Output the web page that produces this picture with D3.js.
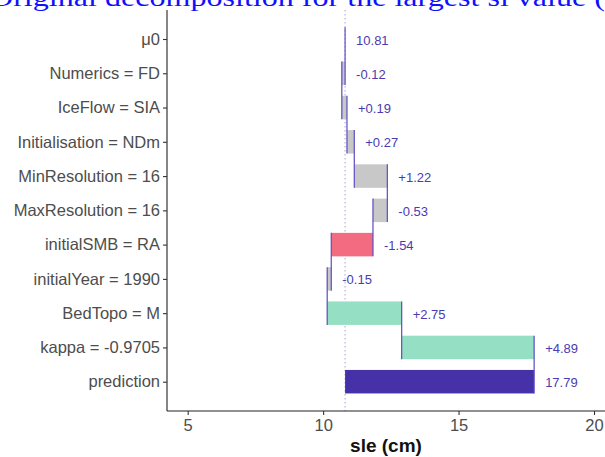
<!DOCTYPE html>
<html>
<head>
<meta charset="utf-8">
<script src="https://cdn.jsdelivr.net/npm/d3@7"></script>
<style>
	body { margin: 0; background: #fff; }
	svg { display: block; }
</style>
</head>
<body>
<svg id="chart" width="605" height="457"></svg>
<script>
const variables = ["μ0", "Numerics = FD", "IceFlow = SIA", "Initialisation = NDm", "MinResolution = 16",
	"MaxResolution = 16", "initialSMB = RA", "initialYear = 1990", "BedTopo = M", "kappa = -0.9705", "prediction"];
const contributions = [10.81, -0.12, 0.19, 0.27, 1.22, -0.53, -1.54, -0.15, 2.75, 4.89];
const prediction = 17.79;
const valueLabels = ["10.81", "-0.12", "+0.19", "+0.27", "+1.22", "-0.53", "-1.54", "-0.15", "+2.75", "+4.89", "17.79"];
const kinds = ["intercept", "other", "other", "other", "other", "other", "negative", "other", "positive", "positive", "prediction"];
const xTicks = [5, 10, 15, 20];
const titleText = "Original decomposition for the largest sl value (";
const xTitle = "sle (cm)";

const drawBreakDown = (svg_name) => {
	let chart = d3.select(svg_name);
	let chart_width = +chart.attr("width");
	let margin = {left: 167, top: 10, bottom: 411};

	// waterfall rows: start / end of each bar
	let rows = [];
	let cum = 0;
	contributions.forEach((c, i) => {
		let start = i === 0 ? c : cum;
		cum = i === 0 ? c : cum + c;
		rows.push({name: variables[i], start: start, end: cum, label: valueLabels[i], kind: kinds[i]});
	});
	rows.push({name: variables[10], start: contributions[0], end: prediction, label: valueLabels[10], kind: kinds[10]});

	let x = d3.scaleLinear().domain([5, 20]).range([187.7, 594]);
	let y = d3.scalePoint().domain(variables).range([39, 381.7]);
	let barH = 23.5;
	let color = d3.scaleOrdinal()
		.domain(["intercept", "other", "negative", "positive", "prediction"])
		.range(["#4631a8", "#c8c8c8", "#f26b80", "#95e0c4", "#4631a8"]);

	// dotted reference line at the intercept
	chart.append("line")
		.attr("x1", x(contributions[0])).attr("x2", x(contributions[0]))
		.attr("y1", margin.top).attr("y2", margin.bottom)
		.style("stroke", "#aaa3d6")
		.style("stroke-width", 1)
		.style("stroke-dasharray", "1.5,2.5");

	chart.selectAll(".bar")
		.data(rows)
		.enter().append("rect")
		.attr("class", "bar")
		.attr("x", (d) => x(Math.min(d.start, d.end)))
		.attr("width", (d) => Math.abs(x(d.end) - x(d.start)))
		.attr("y", (d) => y(d.name) - barH / 2)
		.attr("height", barH)
		.style("fill", (d) => color(d.kind));

	// connectors from each bar to the next one
	chart.selectAll(".conn")
		.data(rows.slice(0, rows.length - 1))
		.enter().append("line")
		.attr("class", "conn")
		.attr("x1", (d) => x(d.end)).attr("x2", (d) => x(d.end))
		.attr("y1", (d) => y(d.name) - barH / 2)
		.attr("y2", (d, i) => y(variables[i + 1]) + barH / 2)
		.style("stroke", "#5a4bc2")
		.style("stroke-width", 1.2);

	chart.selectAll(".val")
		.data(rows)
		.enter().append("text")
		.attr("class", "val")
		.attr("x", (d) => x(Math.max(d.start, d.end)) + 11)
		.attr("y", (d) => y(d.name) + 1)
		.attr("dominant-baseline", "central")
		.style("font-family", "Liberation Sans, Arial, sans-serif")
		.style("font-size", "13px")
		.style("fill", "#4a3bb0")
		.text((d) => d.label);

	// axes
	let y_axis = d3.axisLeft(y).tickSize(4).tickPadding(3);
	let gy = chart.append("g")
		.attr("transform", `translate(${margin.left},0)`)
		.call(y_axis);
	gy.select(".domain").attr("d", `M0,${margin.top}V${margin.bottom}`);

	let x_axis = d3.axisBottom(x).tickValues(xTicks).tickSize(4).tickPadding(4);
	let gx = chart.append("g")
		.attr("transform", `translate(0,${margin.bottom})`)
		.call(x_axis);
	gx.select(".domain").attr("d", `M${margin.left},0H${chart_width}`);

	[gx, gy].forEach((g) => {
		g.select(".domain").style("stroke", "#222").style("stroke-width", 1.1);
		g.selectAll(".tick line").style("stroke", "#333").style("stroke-width", 1.1);
		g.selectAll(".tick text")
			.style("font-family", "Liberation Sans, Arial, sans-serif")
			.style("font-size", "16.5px")
			.style("fill", "#4d4d4d");
	});

	chart.append("text")
		.attr("x", (margin.left + chart_width) / 2)
		.attr("y", 452)
		.style("text-anchor", "middle")
		.style("font-family", "Liberation Sans, Arial, sans-serif")
		.style("font-size", "19px")
		.style("font-weight", "bold")
		.style("fill", "#111")
		.text(xTitle);

	// title, cut off at the top as in the source
	chart.append("text")
		.attr("x", -10)
		.attr("y", 6)
		.attr("textLength", 615)
		.attr("lengthAdjust", "spacingAndGlyphs")
		.style("font-family", "Liberation Serif, Times New Roman, serif")
		.style("font-size", "25px")
		.style("fill", "#1010ff")
		.text(titleText);
}

drawBreakDown("#chart");
</script>
</body>
</html>
